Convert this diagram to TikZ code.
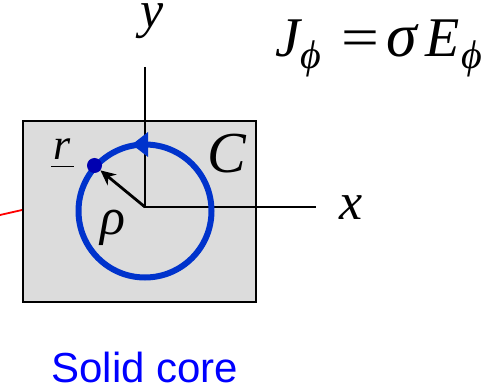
\documentclass[tikz,border=0pt]{standalone}
\usepackage{fontspec}
\setmainfont{Liberation Serif}
\setsansfont{Liberation Sans}
\usetikzlibrary{arrows.meta}
\begin{document}
\begin{tikzpicture}[x=1pt,y=-1pt,
  lbl/.style={inner sep=0pt,anchor=base,font=\itshape\fontsize{52}{60}\selectfont},
  biglbl/.style={inner sep=0pt,anchor=base,font=\itshape\fontsize{58}{66}\selectfont},
  axis/.style={draw=black,line width=2pt},
  loopc/.style={draw={rgb,255:red,0;green,51;blue,204},line width=6pt}]
\useasboundingbox (0,0) rectangle (494,387);
\definecolor{loopblue}{RGB}{0,51,204}
\definecolor{dotblue}{RGB}{0,0,176}
\definecolor{core}{RGB}{220,220,220}
\newcommand\mysub[1]{\raisebox{-12pt}{\fontsize{40}{44}\selectfont #1}}
% core box
\node[draw=black,line width=2.4pt,fill=core,minimum width=233pt,minimum height=181pt,inner sep=0pt,anchor=north west] (box) at (22,120) {};
% red lead
\coordinate (lead) at (0,215);
\draw[red,line width=1.8pt] (lead) -- (box.west |- 0,210);
% axes
\coordinate (O) at (145,207);
\coordinate (ytop) at (145,67);
\coordinate (xend) at (316,207);
\draw[axis] (ytop) -- (O) -- (xend);
% loop C
\coordinate (cc) at (145,211);
\draw[loopc] (cc) circle[radius=66.5];
\fill[loopblue] (132,144.5) -- (148,132) -- (148,157) -- cycle;
% point r
\node[circle,fill=dotblue,minimum size=15pt,inner sep=0pt] (dot) at (94.5,165.5) {};
\draw[black,line width=2.8pt,-{Stealth[length=15pt,width=14pt]}] (O) -- (dot);
% labels
\node[lbl] (ylab) at (152,28) {y};
\node[lbl] (xlab) at (351,219) {x};
\node[biglbl] (clab) at (227,172) {C};
\node[lbl] (rholab) at (113,234) {ρ};
\node[inner sep=0pt,anchor=base,font=\itshape\fontsize{44}{50}\selectfont] (rlab) at (62,160) {r};
\draw[black,line width=1.6pt] (51,166.5) -- (74,166.5);
\node[inner sep=0pt,anchor=base west,font=\itshape\fontsize{56}{64}\selectfont] (eq) at (275,57)
  {\makebox[25pt][l]{J}\makebox[41pt][l]{\mysub{ϕ}}\makebox[45pt][l]{\upshape\scalebox{1.2}[1]{=}}\makebox[39pt][l]{\fontsize{62}{64}\selectfont σ}\makebox[36pt][l]{E}\mysub{ϕ}};
\node[inner sep=0pt,anchor=base,text=blue,font=\sffamily\fontsize{42}{48}\selectfont] (cap) at (145,382) {Solid core};
\end{tikzpicture}
\end{document}
